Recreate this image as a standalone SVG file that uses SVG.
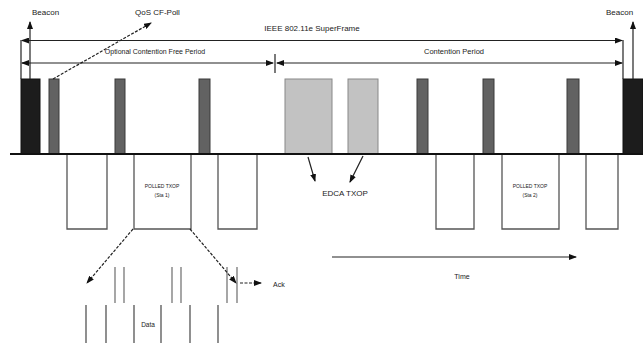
<svg xmlns="http://www.w3.org/2000/svg" width="643" height="343" viewBox="0 0 643 343">
<defs>
<marker id="ah" markerWidth="8" markerHeight="6" refX="7" refY="3" orient="auto" markerUnits="userSpaceOnUse">
<path d="M0,0 L8,3 L0,6 Z" fill="#111"/>
</marker>
<style>
text{font-family:"Liberation Sans",Arial,sans-serif;fill:#222}
.lbl{font-size:8px}
.sm{font-size:5px}
.conn{stroke:#222;stroke-width:1.2;fill:none}
.dash{stroke:#222;stroke-width:1.2;fill:none;stroke-dasharray:3,1.5}
.beacon{fill:#1c1c1c;stroke:#111;stroke-width:1}
.dark{fill:#626262;stroke:#3a3a3a;stroke-width:1}
.light{fill:#c2c2c2;stroke:#888;stroke-width:1}
.box{fill:none;stroke:#555;stroke-width:1.3}
.gap{stroke:#777;stroke-width:1.3}
</style>
</defs>
<rect width="643" height="343" fill="#fff"/>

<g id="frames">
<rect class="beacon" x="21" y="79" width="19" height="75"/>
<rect class="dark" x="49" y="79" width="10" height="75"/>
<rect class="dark" x="115" y="79" width="10" height="75"/>
<rect class="dark" x="199" y="79" width="11" height="75"/>
<rect class="light" x="285" y="79" width="47" height="75"/>
<rect class="light" x="348" y="79" width="30" height="75"/>
<rect class="dark" x="417" y="79" width="11" height="75"/>
<rect class="dark" x="483" y="79" width="11" height="75"/>
<rect class="dark" x="567" y="79" width="12" height="75"/>
<rect class="beacon" x="623" y="79" width="20" height="75"/>
</g>

<g id="baseline">
<line x1="10" y1="154" x2="643" y2="154" stroke="#111" stroke-width="2.2"/>
</g>

<g id="txops">
<path class="box" d="M67,155 V229 H107 V155"/>
<path class="box" d="M134,155 V229 H191 V155"/>
<path class="box" d="M218,155 V229 H257 V155"/>
<path class="box" d="M436,155 V229 H474 V155"/>
<path class="box" d="M502,155 V229 H559 V155"/>
<path class="box" d="M586,155 V229 H618 V155"/>
<text class="sm" x="162" y="188" text-anchor="middle">POLLED TXOP</text>
<text class="sm" x="162" y="197" text-anchor="middle">(Sta 1)</text>
<text class="sm" x="530" y="188" text-anchor="middle">POLLED TXOP</text>
<text class="sm" x="530" y="197" text-anchor="middle">(Sta 2)</text>
</g>

<g id="detail">
<line class="gap" x1="115" y1="267" x2="115" y2="303"/>
<line class="gap" x1="124" y1="267" x2="124" y2="303"/>
<line class="gap" x1="172" y1="267" x2="172" y2="303"/>
<line class="gap" x1="181" y1="267" x2="181" y2="303"/>
<line class="gap" x1="227" y1="267" x2="227" y2="303"/>
<line class="gap" x1="237" y1="267" x2="237" y2="303"/>
<path class="box" d="M86,305 V343 M106,305 V343"/>
<path class="box" d="M134,305 V343 M161,305 V343"/>
<path class="box" d="M190,305 V343 M218,305 V343"/>
<text class="lbl" x="148" y="327" text-anchor="middle" style="font-size:6.5px">Data</text>
<text class="lbl" x="273" y="287" style="font-size:7px">Ack</text>
</g>

<g id="labels">
<text class="lbl" x="32" y="15">Beacon</text>
<text class="lbl" x="606" y="15">Beacon</text>
<text class="lbl" x="135" y="15">QoS CF-Poll</text>
<text class="lbl" x="312" y="31" text-anchor="middle">IEEE 802.11e SuperFrame</text>
<text class="lbl" x="155" y="54" text-anchor="middle" style="font-size:7px">Optional Contention Free Period</text>
<text class="lbl" x="454" y="54" text-anchor="middle" style="font-size:7.5px">Contention Period</text>
<text class="lbl" x="345" y="196" text-anchor="middle">EDCA TXOP</text>
<text class="lbl" x="462" y="279" text-anchor="middle" style="font-size:7px">Time</text>
</g>

<g id="connectors">
<!-- beacon arrows -->
<line class="conn" x1="30" y1="79" x2="30" y2="22" marker-end="url(#ah)"/>
<line class="conn" x1="633" y1="79" x2="633" y2="22" marker-end="url(#ah)"/>
<!-- brackets -->
<line class="conn" x1="21" y1="40" x2="21" y2="79"/>
<line class="conn" x1="623" y1="40" x2="623" y2="79"/>
<!-- superframe -->
<line class="conn" x1="28" y1="40.5" x2="622" y2="40.5" marker-end="url(#ah)"/>
<line class="conn" x1="28" y1="40.5" x2="22" y2="40.5" marker-end="url(#ah)"/>
<!-- periods -->
<line class="conn" x1="28" y1="63" x2="273" y2="63" marker-end="url(#ah)"/>
<line class="conn" x1="28" y1="63" x2="22" y2="63" marker-end="url(#ah)"/>
<line class="conn" x1="284" y1="63" x2="622" y2="63" marker-end="url(#ah)"/>
<line class="conn" x1="284" y1="63" x2="277" y2="63" marker-end="url(#ah)"/>
<line class="conn" x1="275" y1="54" x2="275" y2="73" stroke-width="0.8"/>
<!-- CF-Poll -->
<line class="dash" x1="53" y1="79" x2="151" y2="23" marker-end="url(#ah)"/>
<!-- EDCA -->
<line class="conn" x1="308" y1="157" x2="315" y2="181" marker-end="url(#ah)"/>
<line class="conn" x1="363" y1="156" x2="350" y2="182" marker-end="url(#ah)"/>
<!-- zoom into TXOP -->
<line class="dash" x1="133" y1="229" x2="87" y2="283" marker-end="url(#ah)"/>
<line class="dash" x1="190" y1="229" x2="236" y2="283" marker-end="url(#ah)"/>
<line class="dash" x1="240" y1="283" x2="261" y2="283" marker-end="url(#ah)"/>
<!-- time -->
<line class="conn" x1="332" y1="257" x2="576" y2="257" marker-end="url(#ah)"/>
</g>
</svg>
